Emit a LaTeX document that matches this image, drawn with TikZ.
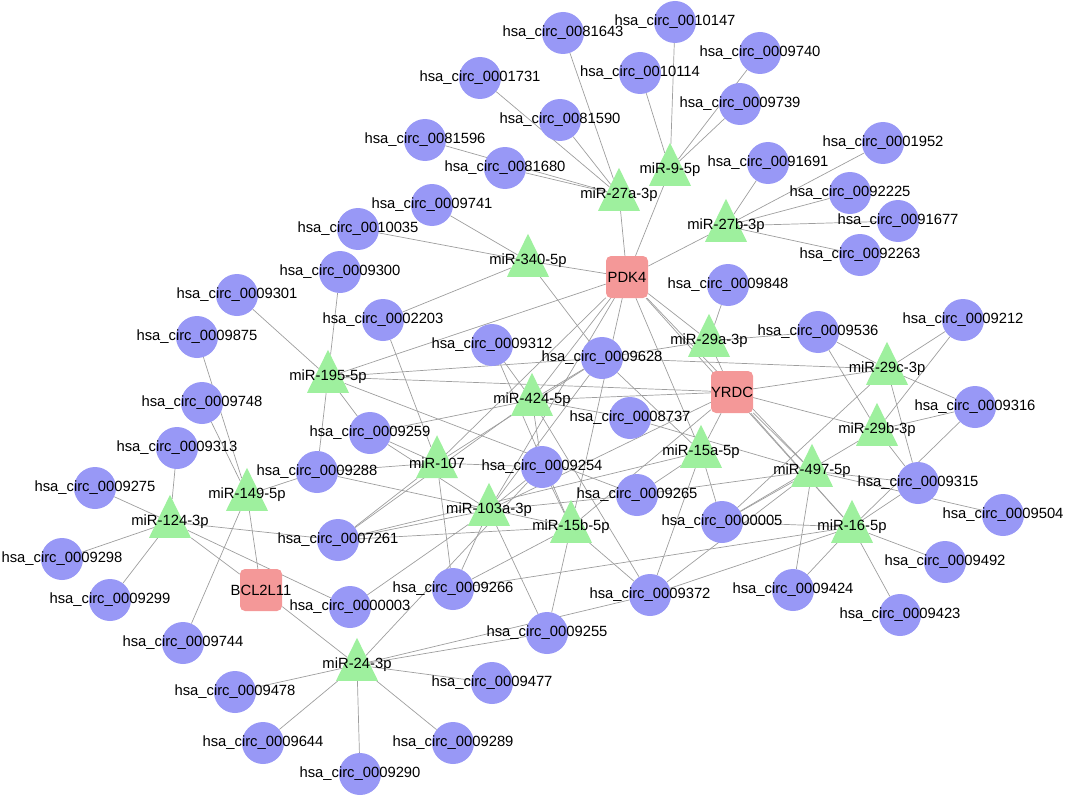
\documentclass[tikz,border=0pt]{standalone}
\usepackage{fontspec}
\setmainfont{Liberation Sans}
\usepackage{tikz}
\usetikzlibrary{shapes.geometric}
\definecolor{circblue}{RGB}{152,152,246}
\definecolor{mirgreen}{RGB}{158,240,158}
\definecolor{genered}{RGB}{244,152,152}
\definecolor{linkgray}{RGB}{158,158,158}
\pgfdeclarelayer{edges}
\pgfsetlayers{edges,main}
\newcommand{\lbl}[1]{\makebox[0pt]{#1}}

\begin{document}
\begin{tikzpicture}[x=1pt,y=-1pt,font=\fontsize{14.8}{17}\selectfont,
	circ/.style={circle,fill=circblue,minimum size=42pt,inner sep=0pt},
	mir/.style={isosceles triangle,isosceles triangle stretches,shape border rotate=90,fill=mirgreen,minimum width=42pt,minimum height=43pt,inner sep=0pt},
	gene/.style={rectangle,rounded corners=5pt,fill=genered,minimum width=42pt,minimum height=42pt,inner sep=0pt},
	link/.style={draw=linkgray,line width=0.7pt}]
	\useasboundingbox (0,0) rectangle (1065,797);

	% circRNAs
	\node[circ] (c0081643) at (563,33) {\lbl{hsa\_circ\_0081643}};
	\node[circ] (c0010147) at (675,22) {\lbl{hsa\_circ\_0010147}};
	\node[circ] (c0009740) at (760,53) {\lbl{hsa\_circ\_0009740}};
	\node[circ] (c0010114) at (640,73) {\lbl{hsa\_circ\_0010114}};
	\node[circ] (c0001731) at (480,78) {\lbl{hsa\_circ\_0001731}};
	\node[circ] (c0009739) at (740,104) {\lbl{hsa\_circ\_0009739}};
	\node[circ] (c0081590) at (560,120) {\lbl{hsa\_circ\_0081590}};
	\node[circ] (c0081596) at (425,140) {\lbl{hsa\_circ\_0081596}};
	\node[circ] (c0001952) at (883,143) {\lbl{hsa\_circ\_0001952}};
	\node[circ] (c0081680) at (505,168) {\lbl{hsa\_circ\_0081680}};
	\node[circ] (c0091691) at (768,163) {\lbl{hsa\_circ\_0091691}};
	\node[circ] (c0092225) at (850,193) {\lbl{hsa\_circ\_0092225}};
	\node[circ] (c0009741) at (432,205) {\lbl{hsa\_circ\_0009741}};
	\node[circ] (c0091677) at (898,221) {\lbl{hsa\_circ\_0091677}};
	\node[circ] (c0010035) at (358,229) {\lbl{hsa\_circ\_0010035}};
	\node[circ] (c0092263) at (860,255) {\lbl{hsa\_circ\_0092263}};
	\node[circ] (c0009300) at (340,272) {\lbl{hsa\_circ\_0009300}};
	\node[circ] (c0009848) at (728,285) {\lbl{hsa\_circ\_0009848}};
	\node[circ] (c0009301) at (237,295) {\lbl{hsa\_circ\_0009301}};
	\node[circ] (c0002203) at (383,320) {\lbl{hsa\_circ\_0002203}};
	\node[circ] (c0009212) at (963,320) {\lbl{hsa\_circ\_0009212}};
	\node[circ] (c0009875) at (197,337) {\lbl{hsa\_circ\_0009875}};
	\node[circ] (c0009312) at (492,345) {\lbl{hsa\_circ\_0009312}};
	\node[circ] (c0009536) at (818,332) {\lbl{hsa\_circ\_0009536}};
	\node[circ] (c0009628) at (602,358) {\lbl{hsa\_circ\_0009628}};
	\node[circ] (c0009748) at (202,403) {\lbl{hsa\_circ\_0009748}};
	\node[circ] (c0008737) at (630,418) {\lbl{hsa\_circ\_0008737}};
	\node[circ] (c0009316) at (975,407) {\lbl{hsa\_circ\_0009316}};
	\node[circ] (c0009259) at (370,433) {\lbl{hsa\_circ\_0009259}};
	\node[circ] (c0009313) at (177,448) {\lbl{hsa\_circ\_0009313}};
	\node[circ] (c0009288) at (317,472) {\lbl{hsa\_circ\_0009288}};
	\node[circ] (c0009254) at (542,467) {\lbl{hsa\_circ\_0009254}};
	\node[circ] (c0009315) at (918,483) {\lbl{hsa\_circ\_0009315}};
	\node[circ] (c0009275) at (95,488) {\lbl{hsa\_circ\_0009275}};
	\node[circ] (c0009265) at (637,495) {\lbl{hsa\_circ\_0009265}};
	\node[circ] (c0009504) at (1003,515) {\lbl{hsa\_circ\_0009504}};
	\node[circ] (c0007261) at (338,540) {\lbl{hsa\_circ\_0007261}};
	\node[circ] (c0000005) at (722,522) {\lbl{hsa\_circ\_0000005}};
	\node[circ] (c0009298) at (62,559) {\lbl{hsa\_circ\_0009298}};
	\node[circ] (c0009266) at (453,589) {\lbl{hsa\_circ\_0009266}};
	\node[circ] (c0009372) at (650,595) {\lbl{hsa\_circ\_0009372}};
	\node[circ] (c0009492) at (945,562) {\lbl{hsa\_circ\_0009492}};
	\node[circ] (c0009299) at (110,600) {\lbl{hsa\_circ\_0009299}};
	\node[circ] (c0000003) at (350,607) {\lbl{hsa\_circ\_0000003}};
	\node[circ] (c0009424) at (793,590) {\lbl{hsa\_circ\_0009424}};
	\node[circ] (c0009423) at (900,615) {\lbl{hsa\_circ\_0009423}};
	\node[circ] (c0009744) at (183,643) {\lbl{hsa\_circ\_0009744}};
	\node[circ] (c0009255) at (547,633) {\lbl{hsa\_circ\_0009255}};
	\node[circ] (c0009477) at (492,683) {\lbl{hsa\_circ\_0009477}};
	\node[circ] (c0009478) at (235,692) {\lbl{hsa\_circ\_0009478}};
	\node[circ] (c0009644) at (263,743) {\lbl{hsa\_circ\_0009644}};
	\node[circ] (c0009289) at (453,743) {\lbl{hsa\_circ\_0009289}};
	\node[circ] (c0009290) at (360,774) {\lbl{hsa\_circ\_0009290}};

	% miRNAs
	\node[mir] (m9) at (670,170) {\lbl{miR-9-5p}};
	\node[mir] (m27a) at (619,195) {\lbl{miR-27a-3p}};
	\node[mir] (m27b) at (726,226) {\lbl{miR-27b-3p}};
	\node[mir] (m340) at (528,261) {\lbl{miR-340-5p}};
	\node[mir] (m195) at (328,377) {\lbl{miR-195-5p}};
	\node[mir] (m29a) at (709,341) {\lbl{miR-29a-3p}};
	\node[mir] (m29c) at (887,369) {\lbl{miR-29c-3p}};
	\node[mir] (m424) at (532,400) {\lbl{miR-424-5p}};
	\node[mir] (m29b) at (877,430) {\lbl{miR-29b-3p}};
	\node[mir] (m107) at (437,463) {\lbl{miR-107}};
	\node[mir] (m15a) at (701,452) {\lbl{miR-15a-5p}};
	\node[mir] (m497) at (812,471) {\lbl{miR-497-5p}};
	\node[mir] (m149) at (247,495) {\lbl{miR-149-5p}};
	\node[mir] (m103a) at (489,510) {\lbl{miR-103a-3p}};
	\node[mir] (m124) at (170,522) {\lbl{miR-124-3p}};
	\node[mir] (m15b) at (571,527) {\lbl{miR-15b-5p}};
	\node[mir] (m16) at (852,527) {\lbl{miR-16-5p}};
	\node[mir] (m24) at (357,665) {\lbl{miR-24-3p}};

	% mRNAs
	\node[gene] (pdk4) at (627,277) {\lbl{PDK4}};
	\node[gene] (yrdc) at (732,392) {\lbl{YRDC}};
	\node[gene] (bcl) at (261,590) {\lbl{BCL2L11}};

	\begin{pgfonlayer}{edges}
	\draw[link] (pdk4) edge (m9) edge (m27a) edge (m27b) edge (m340) edge (m195) edge (m424) edge (m107) edge (m103a) edge (m15b) edge (m15a) edge (m29a) edge (m497) edge (m16);
	\draw[link] (yrdc) edge (m29a) edge (m29c) edge (m29b) edge (m497) edge (m16) edge (m15a) edge (m195) edge (m424) edge (m103a) edge (m15b);
	\draw[link] (bcl) edge (m124) edge (m149) edge (m24);
	\draw[link] (m9) edge (c0010147) edge (c0010114) edge (c0009740) edge (c0009739);
	\draw[link] (m27a) edge (c0081643) edge (c0001731) edge (c0081590) edge (c0081596) edge (c0081680);
	\draw[link] (m27b) edge (c0091691) edge (c0001952) edge (c0092225) edge (c0091677) edge (c0092263);
	\draw[link] (m340) edge (c0009741) edge (c0010035) edge (c0002203) edge (c0009628);
	\draw[link] (m195) edge (c0009300) edge (c0009301) edge (c0009259) edge (c0009288) edge (c0009628) edge (c0009265);
	\draw[link] (m424) edge (c0009312) edge (c0009628) edge (c0009259) edge (c0007261) edge (c0009254) edge (c0009372) edge (c0008737);
	\draw[link] (m29a) edge (c0009848) edge (c0009536) edge (c0009628);
	\draw[link] (m29c) edge (c0009536) edge (c0009212) edge (c0009316) edge (c0009315) edge (c0009628) edge (c0000005);
	\draw[link] (m29b) edge (c0009536) edge (c0009212) edge (c0009316) edge (c0009315) edge (c0000005);
	\draw[link] (m107) edge (c0002203) edge (c0009259) edge (c0009288) edge (c0007261) edge (c0009266) edge (c0009254) edge (c0009628);
	\draw[link] (m149) edge (c0009875) edge (c0009748) edge (c0009288) edge (c0009744);
	\draw[link] (m15a) edge (c0009265) edge (c0000005) edge (c0009372) edge (c0007261) edge (c0009628);
	\draw[link] (m497) edge (c0009315) edge (c0009504) edge (c0009424) edge (c0000005) edge (c0009372) edge (c0009265) edge (c0008737);
	\draw[link] (m124) edge (c0009313) edge (c0009275) edge (c0009298) edge (c0009299) edge (c0007261) edge (c0000003);
	\draw[link] (m103a) edge (c0009259) edge (c0007261) edge (c0009254) edge (c0009265) edge (c0009266) edge (c0000003) edge (c0009255) edge (c0009628);
	\draw[link] (m15b) edge (c0009255) edge (c0009372) edge (c0009266) edge (c0009254) edge (c0007261) edge (c0009312) edge (c0009288);
	\draw[link] (m16) edge (c0009492) edge (c0009423) edge (c0009424) edge (c0009315) edge (c0009266) edge (c0009372) edge (c0000005) edge (c0009316);
	\draw[link] (m24) edge (c0009478) edge (c0009644) edge (c0009290) edge (c0009289) edge (c0009477) edge (c0009255) edge (c0009372) edge (c0009254);
	\end{pgfonlayer}
\end{tikzpicture}
\end{document}
